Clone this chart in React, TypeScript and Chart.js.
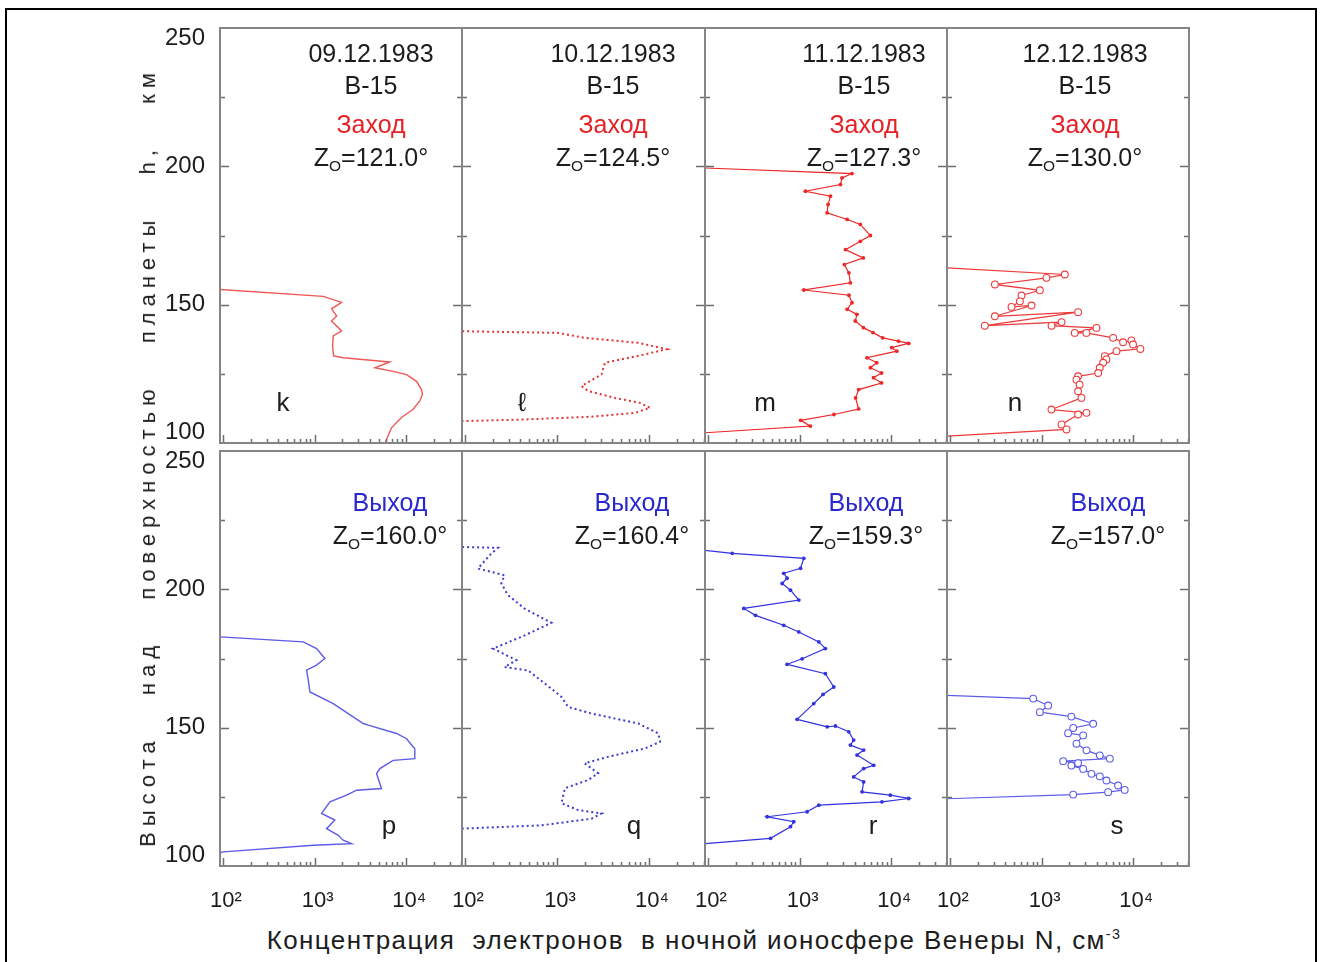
import React, { useEffect, useRef } from 'react';
import { Chart, registerables } from 'chart.js';

Chart.register(...registerables);

// ---------------- data ----------------
const X_MIN = 92.7;
const X_MAX = 40600;
const H_MIN = 100;
const H_MAX = 250;
const hTickValues = [100, 150, 200, 250];
const hTickLabels = ['100', '150', '200', '250'];
const hMinorTicks = [125, 150, 175, 200, 225];
const nTickValues = [100, 1000, 10000];
const nTickLabels = ['10²', '10³', '10⁴'];

const dates = ['09.12.1983', '10.12.1983', '11.12.1983', '12.12.1983'];
const craft = 'В-15';
const ingressWord = 'Заход';
const egressWord = 'Выход';
const zenithIngress = ['121.0', '124.5', '127.3', '130.0'];
const zenithEgress = ['160.0', '160.4', '159.3', '157.0'];
const lettersTop = ['k', 'ℓ', 'm', 'n'];
const lettersBottom = ['p', 'q', 'r', 's'];
const xTitle = 'Концентрация  электронов  в ночной ионосфере Венеры N, см';
const yTitle = 'Высота  над  поверхностью  планеты  h,  км';

// panel k (09.12, ingress)
const kN = [93, 1242, 1968, 1531, 1740, 1531, 1968, 1596, 1570, 1610, 2050, 6620, 4550, 7190, 10070, 12940, 14670, 15030, 14060, 11900, 8870, 6900, 6090, 5850];
const kH = [155.5, 153.0, 150.8, 148.5, 145.9, 144.1, 140.5, 138.7, 135.1, 131.5, 130.8, 129.3, 127.2, 125.9, 124.7, 122.3, 119.3, 117.6, 115.2, 112.2, 109.2, 105.5, 101.3, 99.5];

// panel l (10.12, ingress)
const lN = [93, 1026, 2003, 7660, 15600, 7660, 3310, 3050, 1845, 2180, 4260, 7980, 10250, 7050, 2370, 445, 93];
const lH = [140.4, 139.8, 138.0, 136.2, 133.9, 131.5, 129.0, 124.8, 120.6, 118.8, 116.3, 114.5, 112.7, 110.9, 109.5, 108.5, 107.9];

// panel m (11.12, ingress)
const mN = [93, 3730, 2900, 2790, 1157, 2170, 2045, 1995, 3300, 4600, 5910, 4600, 3165, 4950, 3080, 3450, 3580, 1110, 3450, 3730, 3300, 4220, 4050, 4970, 6320, 8070, 12000, 15500, 10100, 11500, 5440, 6950, 5920, 7830, 6400, 7830, 4410, 4080, 4410, 2370, 1025, 1310, 93];
const mH = [199.4, 197.4, 195.8, 193.4, 191.0, 189.2, 186.2, 183.2, 180.8, 179.0, 175.0, 172.9, 169.9, 166.9, 164.5, 161.5, 157.9, 155.3, 153.4, 150.7, 148.3, 146.5, 144.1, 141.7, 139.9, 138.0, 136.8, 136.0, 134.5, 133.2, 130.8, 129.0, 127.2, 125.3, 123.6, 121.7, 119.3, 116.3, 112.3, 110.3, 108.2, 106.1, 103.7];

// panel n (12.12, ingress)
const nN = [93, 1792, 1130, 309, 957, 603, 579, 469, 775, 309, 2500, 240, 1650, 1283, 3970, 2300, 3080, 6030, 7740, 9550, 9950, 11970, 6560, 4900, 5100, 4690, 4310, 4140, 2500, 2400, 2600, 2500, 2720, 1280, 3090, 2500, 1650, 1870, 93];
const nH = [163.3, 160.9, 159.7, 157.3, 155.2, 153.3, 151.2, 149.2, 149.7, 145.8, 147.3, 142.4, 143.7, 142.4, 141.6, 139.8, 139.8, 138.0, 136.4, 137.1, 135.6, 134.0, 133.2, 131.4, 130.2, 129.0, 127.2, 125.3, 124.1, 122.9, 121.1, 118.7, 116.3, 112.1, 110.9, 110.3, 106.7, 104.9, 102.5];

// panel p (09.12, egress)
const pN = [93, 752, 1050, 1294, 1050, 817, 853, 889, 1597, 3390, 3850, 7830, 10070, 12400, 12400, 7200, 5150, 4740, 5370, 2870, 2230, 1470, 1190, 1660, 1350, 1810, 2050, 2530, 966, 101, 93];
const pH = [182.8, 181.0, 178.6, 175.0, 172.6, 170.8, 167.1, 162.9, 158.7, 151.5, 150.9, 147.9, 146.0, 142.4, 138.8, 138.2, 135.2, 133.4, 128.0, 127.4, 125.6, 123.2, 119.0, 116.6, 113.5, 111.1, 109.3, 108.1, 107.5, 105.1, 104.8];

// panel q (10.12, egress)
const qN = [93, 228, 185, 138, 269, 248, 293, 445, 868, 409, 201, 361, 269, 484, 868, 1118, 1320, 2370, 7660, 12650, 13180, 9060, 3600, 2000, 2800, 2180, 1217, 1118, 1700, 3050, 2370, 676, 93];
const qH = [215.3, 215.0, 212.3, 207.5, 205.1, 202.1, 197.9, 193.0, 187.9, 182.8, 178.6, 174.4, 171.9, 170.7, 164.1, 161.1, 157.5, 155.1, 151.5, 147.9, 144.9, 142.5, 139.5, 137.1, 133.5, 131.1, 128.1, 122.7, 120.2, 119.0, 117.1, 114.7, 113.5];

// panel r (11.12, egress)
const rN = [93, 184, 1110, 1022, 671, 730, 645, 795, 980, 246, 330, 671, 980, 1620, 1910, 1065, 730, 1910, 2360, 1800, 1425, 938, 2000, 2460, 3440, 3890, 3580, 5000, 4230, 6430, 5000, 3890, 5000, 4800, 9780, 15500, 7920, 1620, 1208, 442, 863, 795, 481, 93];
const rH = [214.1, 213.0, 211.2, 207.6, 205.8, 204.0, 202.1, 199.7, 196.1, 193.1, 190.6, 187.0, 184.6, 181.0, 178.6, 174.9, 172.9, 169.5, 164.7, 162.0, 158.7, 153.0, 150.3, 150.6, 148.5, 145.5, 143.7, 141.9, 140.1, 136.4, 135.2, 132.2, 130.4, 126.8, 125.6, 124.4, 123.2, 122.0, 119.6, 117.8, 116.0, 114.2, 110.0, 108.1];

// panel s (12.12, egress)
const sN = [93, 809, 1178, 955, 2113, 3650, 2210, 1944, 2840, 2400, 3090, 4310, 5550, 1718, 2500, 2110, 2840, 3500, 4310, 5100, 6830, 8070, 5320, 2210, 93];
const sH = [161.7, 160.5, 158.0, 155.6, 154.0, 151.4, 149.9, 148.0, 147.2, 144.2, 141.8, 140.0, 138.8, 137.9, 137.2, 136.3, 135.1, 133.3, 132.4, 130.9, 129.1, 127.5, 126.7, 125.8, 124.3];

// ---------------- layout / style ----------------
const FONT = '"Liberation Sans", Arial, Helvetica, sans-serif';
const TEXT = '#1c1c1c';
const RED_TEXT = 'rgb(228,34,40)';
const BLUE_TEXT = 'rgb(40,40,205)';
const COL_X = [220, 462, 705, 947];
const COL_W = [242, 243, 242, 242];
const ROW_Y = [28, 451];
const ROW_H = 415;
const ML = 70, MR = 10, MT = 12, MB = 50;

type Spec = {
  n: number[]; h: number[]; row: number; col: number;
  color: string; width: number; dash: number[]; radius: number; open: boolean;
};

const specs: Spec[] = [
  { n: kN, h: kH, row: 0, col: 0, color: 'rgb(240,88,88)', width: 1.4, dash: [], radius: 0, open: false },
  { n: lN, h: lH, row: 0, col: 1, color: 'rgb(228,50,50)', width: 2, dash: [2, 3], radius: 0, open: false },
  { n: mN, h: mH, row: 0, col: 2, color: 'rgb(236,40,40)', width: 1.2, dash: [], radius: 1.9, open: false },
  { n: nN, h: nH, row: 0, col: 3, color: 'rgb(236,60,60)', width: 1.2, dash: [], radius: 3.4, open: true },
  { n: pN, h: pH, row: 1, col: 0, color: 'rgb(92,92,232)', width: 1.4, dash: [], radius: 0, open: false },
  { n: qN, h: qH, row: 1, col: 1, color: 'rgb(60,60,205)', width: 2, dash: [2, 3], radius: 0, open: false },
  { n: rN, h: rH, row: 1, col: 2, color: 'rgb(50,50,222)', width: 1.2, dash: [], radius: 1.9, open: false },
  { n: sN, h: sH, row: 1, col: 3, color: 'rgb(92,92,232)', width: 1.2, dash: [], radius: 3.4, open: true },
];

const framePlugin = {
  id: 'panelFrame',
  afterDatasetsDraw(chart: any) {
    const { ctx, chartArea: a, scales } = chart;
    const x = scales.x, y = scales.y;
    ctx.save();
    ctx.strokeStyle = '#6e6e6e';
    ctx.lineWidth = 1.5;
    ctx.beginPath();
    for (const v of hMinorTicks) {
      const py = Math.round(y.getPixelForValue(v)) + 0.5;
      const len = v % 50 === 0 ? 9 : 5;
      ctx.moveTo(a.left, py); ctx.lineTo(a.left + len, py);
      ctx.moveTo(a.right, py); ctx.lineTo(a.right - len, py);
    }
    for (let e = 1; e <= 4; e++) {
      for (let m = 1; m <= 9; m++) {
        const v = m * Math.pow(10, e);
        if (v < X_MIN || v > X_MAX) continue;
        const px = Math.round(x.getPixelForValue(v)) + 0.5;
        const len = m === 1 ? 8 : 4;
        ctx.moveTo(px, a.bottom); ctx.lineTo(px, a.bottom - len);
      }
    }
    ctx.stroke();
    ctx.strokeStyle = '#858585';
    ctx.lineWidth = 2;
    ctx.strokeRect(a.left, a.top, a.right - a.left, a.bottom - a.top);
    ctx.restore();
  },
};

function makeConfig(s: Spec): any {
  const last = s.n.length - 1;
  return {
    type: 'scatter',
    data: {
      datasets: [
        {
          data: s.n.map((v, i) => ({ x: v, y: s.h[i] })),
          showLine: true,
          borderColor: s.color,
          borderWidth: s.width,
          borderDash: s.dash,
          tension: 0,
          pointRadius: (c: any) => (c.dataIndex === 0 || c.dataIndex === last ? 0 : s.radius),
          pointBorderColor: s.color,
          pointBackgroundColor: s.open ? '#ffffff' : s.color,
          pointBorderWidth: s.open ? 1.1 : 0,
          pointHoverRadius: 0,
        },
      ],
    },
    options: {
      animation: false,
      responsive: false,
      maintainAspectRatio: false,
      events: [],
      layout: { padding: { left: 0, right: MR, top: MT, bottom: 0 } },
      plugins: { legend: { display: false }, tooltip: { enabled: false }, title: { display: false } },
      scales: {
        x: {
          type: 'logarithmic',
          min: X_MIN,
          max: X_MAX,
          grid: { display: false },
          border: { display: false },
          afterBuildTicks: (ax: any) => { ax.ticks = nTickValues.map((v) => ({ value: v })); },
          afterFit: (ax: any) => { ax.height = MB; ax.paddingLeft = 0; ax.paddingRight = 0; ax.paddingTop = 0; ax.paddingBottom = 0; },
          ticks: {
            display: s.row === 1,
            autoSkip: false,
            maxRotation: 0,
            minRotation: 0,
            padding: 14,
            labelOffset: 3,
            color: TEXT,
            font: { family: FONT, size: 22 },
            callback: (v: number) => { const i = nTickValues.indexOf(v); return i < 0 ? '' : nTickLabels[i]; },
          },
        },
        y: {
          type: 'linear',
          min: H_MIN,
          max: H_MAX,
          grid: { display: false },
          border: { display: false },
          afterBuildTicks: (ax: any) => { ax.ticks = hTickValues.map((v) => ({ value: v })); },
          afterFit: (ax: any) => { ax.width = ML; ax.paddingLeft = 0; ax.paddingRight = 0; ax.paddingTop = 0; ax.paddingBottom = 0; },
          ticks: {
            display: s.col === 0,
            padding: 7,
            color: TEXT,
            font: { family: FONT, size: 24, lineHeight: 0.85 },
            callback: (v: number) => {
              const i = hTickValues.indexOf(v);
              if (i < 0) return '';
              const t = hTickLabels[i];
              if (v === H_MAX) return ['', t];
              if (v === H_MIN) return [t, ''];
              return t;
            },
          },
        },
      },
    },
    plugins: [framePlugin],
  };
}

function Panel({ spec }: { spec: Spec }) {
  const ref = useRef<HTMLCanvasElement | null>(null);
  const w = COL_W[spec.col] + ML + MR;
  const h = ROW_H + MT + MB;
  useEffect(() => {
    const chart = new Chart(ref.current as HTMLCanvasElement, makeConfig(spec));
    return () => chart.destroy();
  }, [spec]);
  return (
    <canvas
      ref={ref}
      width={w}
      height={h}
      style={{ position: 'absolute', left: COL_X[spec.col] - ML, top: ROW_Y[spec.row] - MT, width: w, height: h }}
    />
  );
}

function Txt({ x, y, size = 25, color = TEXT, children, style }: any) {
  return (
    <div
      style={{
        position: 'absolute', left: x, top: y, transform: 'translate(-50%, -50%)',
        whiteSpace: 'pre', fontFamily: FONT, fontSize: size, color, lineHeight: 1, ...style,
      }}
    >
      {children}
    </div>
  );
}

function Zen({ value }: { value: string }) {
  return (
    <>
      Z<span style={{ fontSize: '0.62em', position: 'relative', top: '0.35em' }}>O</span>={value}°
    </>
  );
}

const topCenters = [371, 613, 864, 1085];
const bottomCenters = [390, 632, 866, 1108];
const topLetterX = [283, 522, 765, 1015];
const bottomLetterX = [389, 634, 873, 1117];

export default function App() {
  return (
    <div style={{ position: 'absolute', left: 0, top: 0, width: 1321, height: 962, overflow: 'hidden', background: '#fff' }}>
      <div style={{ position: 'absolute', left: 5, top: 8, width: 1312, height: 1000, border: '2.5px solid #000', boxSizing: 'border-box' }} />
      {specs.map((s, i) => <Panel key={i} spec={s} />)}
      {dates.map((d, i) => (
        <React.Fragment key={'t' + i}>
          <Txt x={topCenters[i]} y={53}>{d}</Txt>
          <Txt x={topCenters[i]} y={85}>{craft}</Txt>
          <Txt x={topCenters[i]} y={124} color={RED_TEXT}>{ingressWord}</Txt>
          <Txt x={topCenters[i]} y={157}><Zen value={zenithIngress[i]} /></Txt>
          <Txt x={topLetterX[i]} y={402} size={26}>{lettersTop[i]}</Txt>
          <Txt x={bottomCenters[i]} y={502} color={BLUE_TEXT}>{egressWord}</Txt>
          <Txt x={bottomCenters[i]} y={535}><Zen value={zenithEgress[i]} /></Txt>
          <Txt x={bottomLetterX[i]} y={825} size={26}>{lettersBottom[i]}</Txt>
        </React.Fragment>
      ))}
      <Txt x={694} y={940} size={26} style={{ letterSpacing: '1.4px' }}>
        {xTitle}<span style={{ fontSize: '0.55em', position: 'relative', top: '-0.7em' }}>-3</span>
      </Txt>
      <div
        style={{
          position: 'absolute', left: 148, top: 457, transform: 'translate(-50%, -50%) rotate(-90deg)',
          whiteSpace: 'pre', fontFamily: FONT, fontSize: 22, color: TEXT, letterSpacing: '6px', wordSpacing: '8px', lineHeight: 1,
        }}
      >
        {yTitle}
      </div>
    </div>
  );
}
